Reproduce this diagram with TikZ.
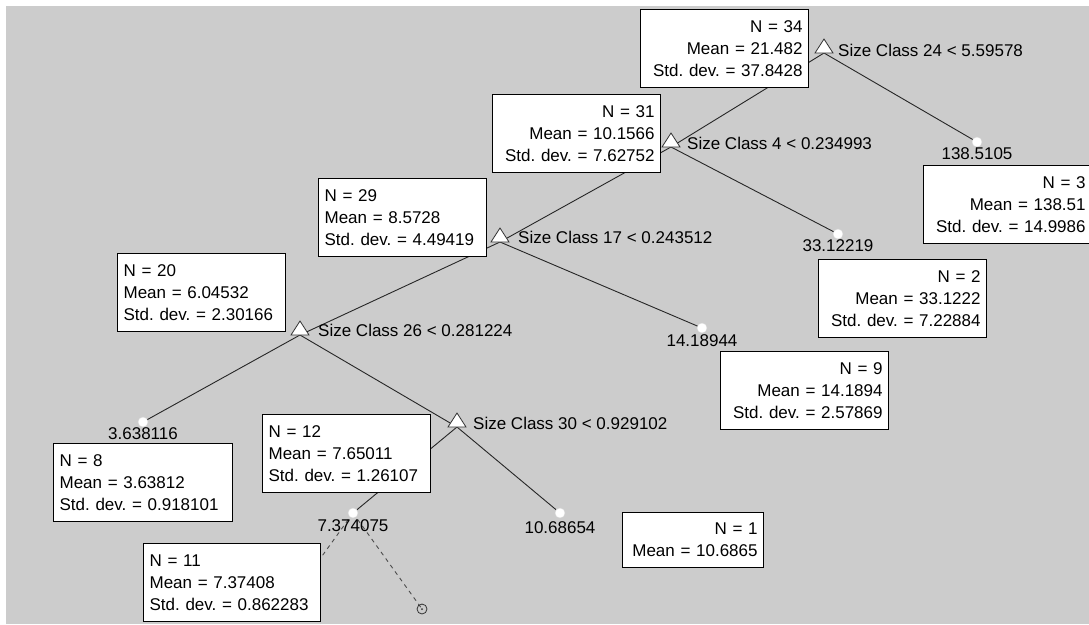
\documentclass[tikz,border=0pt]{standalone}
\usepackage{fontspec}
\setmainfont{Liberation Sans}
\frenchspacing
\definecolor{bg}{RGB}{204,204,204}
\begin{document}
\begin{tikzpicture}[x=1pt,y=-1pt,
  every node/.style={font=\fontsize{17}{22}\selectfont},
  box/.style={draw=black, fill=white, line width=1.2pt, inner xsep=6pt, inner ysep=0pt,
              minimum height=78pt, anchor=north west, text width=#1},
  box/.default=156pt,
  edge/.style={draw=black!85, line width=0.9pt},
  dashedge/.style={draw=black!70, line width=0.9pt, dash pattern=on 4pt off 4pt},
  tri/.style={fill=white, draw=black!80, line width=0.8pt, line join=miter},
  leafdot/.style={circle, fill=white, draw=white!85!black, line width=0.4pt, inner sep=0pt, minimum size=10pt},
  endcirc/.style={circle, draw=black!80, line width=0.8pt, inner sep=0pt, minimum size=10pt},
  split/.style={anchor=base west, inner sep=0pt},
  val/.style={anchor=base, inner sep=0pt},
]
\useasboundingbox (0,0) rectangle (1089,624);
\fill[white] (0,0) rectangle (1089,624);
\fill[bg] (6,6) rectangle (1089,624);

% split points (triangle base centres)
\coordinate (A) at (824,53);
\coordinate (B) at (671,147);
\coordinate (C) at (500,242);
\coordinate (D) at (300,335);
\coordinate (E) at (457,427);
% leaf points
\coordinate (p1) at (977,142);
\coordinate (p2) at (838,234);
\coordinate (p3) at (702,328);
\coordinate (p4) at (143,422);
\coordinate (p5) at (353,513);
\coordinate (p6) at (560,513);
\coordinate (q1) at (284,609);
\coordinate (q2) at (422,609);

% connectors
\draw[edge] (A) -- (B);
\draw[edge] (A) -- (p1);
\draw[edge] (B) -- (C);
\draw[edge] (B) -- (p2);
\draw[edge] (C) -- (D);
\draw[edge] (C) -- (p3);
\draw[edge] (D) -- (p4);
\draw[edge] (D) -- (E);
\draw[edge] (E) -- (p5);
\draw[edge] (E) -- (p6);
\draw[dashedge] (p5) -- (q1);
\draw[dashedge] (p5) -- (q2);

% boxes
\node[box, align=right] (bA) at (640,9) {N = 34\\Mean = 21.482\\Std. dev. = 37.8428};
\node[box, align=right] (bB) at (492,94) {N = 31\\Mean = 10.1566\\Std. dev. = 7.62752};
\node[box, align=left] (bC) at (318,178) {N = 29\\Mean = 8.5728\\Std. dev. = 4.49419};
\node[box, align=left] (bD) at (117,253) {N = 20\\Mean = 6.04532\\Std. dev. = 2.30166};
\node[box, align=left] (bE) at (262,414) {N = 12\\Mean = 7.65011\\Std. dev. = 1.26107};
\node[box=167pt, align=left] (b4) at (53,443) {N = 8\\Mean = 3.63812\\Std. dev. = 0.918101};
\node[box=165pt, align=left] (b5) at (143,543) {N = 11\\Mean = 7.37408\\Std. dev. = 0.862283};
\node[box, align=right] (b1) at (923,165) {N = 3\\Mean = 138.51\\Std. dev. = 14.9986};
\node[box, align=right] (b2) at (818,259) {N = 2\\Mean = 33.1222\\Std. dev. = 7.22884};
\node[box, align=right] (b3) at (720,351) {N = 9\\Mean = 14.1894\\Std. dev. = 2.57869};
\node[box=129pt, align=right, minimum height=55pt] (b6) at (622,512) {N = 1\\Mean = 10.6865};

% split triangles
\foreach \s in {A,B,C,D,E}{
  \draw[tri] (\s) ++(-9,0) -- ++(9,-14) -- ++(9,14) -- cycle;
}
% leaf dots
\foreach \p in {p1,p2,p3,p4,p5,p6}{
  \node[leafdot] (d\p) at (\p) {};
}
\node[endcirc] (cq2) at (q2) {};
\fill[black!80] (q2) circle (1pt);

% split labels
\node[split] (sA) at (838,56) {Size Class 24 < 5.59578};
\node[split] (sB) at (687,149) {Size Class 4 < 0.234993};
\node[split] (sC) at (518,243) {Size Class 17 < 0.243512};
\node[split] (sD) at (318,336) {Size Class 26 < 0.281224};
\node[split] (sE) at (473,429) {Size Class 30 < 0.929102};

% leaf values
\node[val] (v1) at (977,159) {138.5105};
\node[val] (v2) at (838,251) {33.12219};
\node[val] (v3) at (702,346) {14.18944};
\node[val] (v4) at (143,439) {3.638116};
\node[val] (v5) at (353,531) {7.374075};
\node[val] (v6) at (560,533) {10.68654};
\end{tikzpicture}
\end{document}
